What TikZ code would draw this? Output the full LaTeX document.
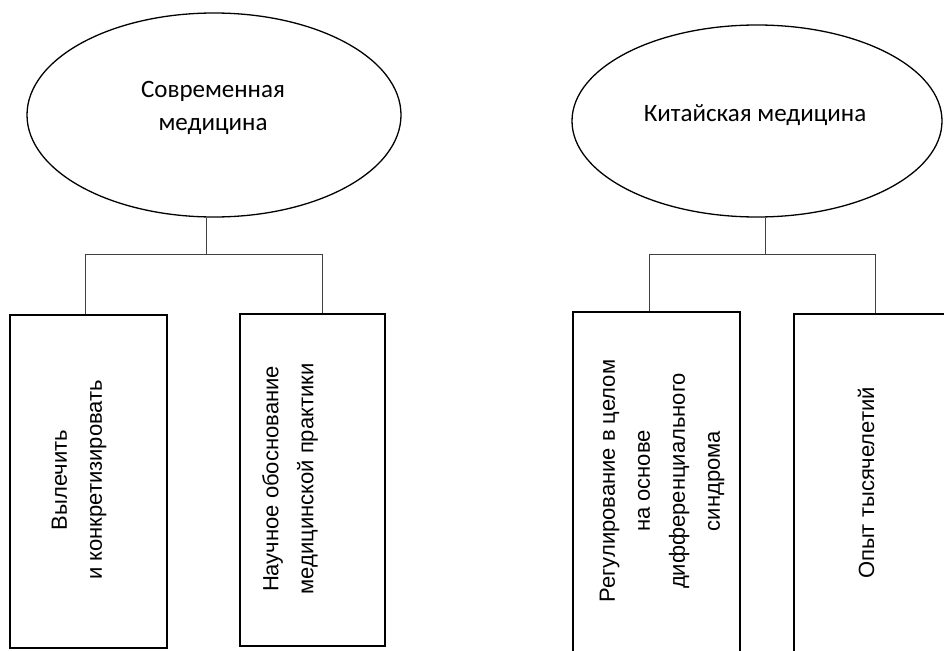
\documentclass[tikz,border=0pt]{standalone}
\usepackage{fontspec}
\setmainfont{Carlito}
\newfontfamily\arialfont{Liberation Sans}
\usetikzlibrary{shapes.geometric}

\begin{document}
\begin{tikzpicture}[x=1pt,y=-1pt,
   oval/.style={draw,ellipse,line width=1.3pt,inner sep=0pt},
   box/.style={draw,rectangle,line width=1.7pt,anchor=north west,inner sep=0pt},
   vtext/.style={rotate=90,align=center,font=\arialfont\fontsize{22}{35}\selectfont},
   otext/.style={align=center,font=\fontsize{25}{33}\selectfont},
   link/.style={line width=0.8pt,draw=black!75}]

   \clip (0,0) rectangle (944,650);

   \node[oval,minimum width=374pt,minimum height=204pt] (modern) at (214,115) {};
   \node[otext] (modern_t) at (213,108) {Современная\\медицина};
   \node[oval,minimum width=370pt,minimum height=192pt] (chinese) at (757,121) {};
   \node[otext] (chinese_t) at (755,115) {Китайская медицина};

   \node[box,minimum width=157pt,minimum height=333pt] (cure)  at (9,314)   {};
   \node[box,minimum width=145pt,minimum height=332pt] (basis) at (239,313) {};
   \node[box,minimum width=167pt,minimum height=400pt] (regul) at (572,311) {};
   \node[box,minimum width=200pt,minimum height=400pt] (exper) at (793,313) {};

   \node[vtext] (cure_t)  at (79,480)  {Вылечить\\и конкретизировать};
   \node[vtext] (basis_t) at (290,479) {Научное обоснование\\медицинской практики};
   \node[vtext] (regul_t) at (662,481) {Регулирование в целом\\на основе\\дифференциального\\синдрома};
   \node[vtext] (exper_t) at (866,483) {Опыт тысячелетий};

   \coordinate (bus_a) at (85,254);
   \coordinate (bus_b) at (322,254);
   \coordinate (bus_c) at (649,254);
   \coordinate (bus_d) at (875,254);

   \draw[link] (modern.-94) -- (modern.-94 |- bus_a);
   \draw[link] (bus_a) -- (bus_b);
   \draw[link] (bus_a) -- (bus_a |- cure.north);
   \draw[link] (bus_b) -- (bus_b |- basis.north);

   \draw[link] (chinese.-85) -- (chinese.-85 |- bus_c);
   \draw[link] (bus_c) -- (bus_d);
   \draw[link] (bus_c) -- (bus_c |- regul.north);
   \draw[link] (bus_d) -- (bus_d |- exper.north);

\end{tikzpicture}
\end{document}
